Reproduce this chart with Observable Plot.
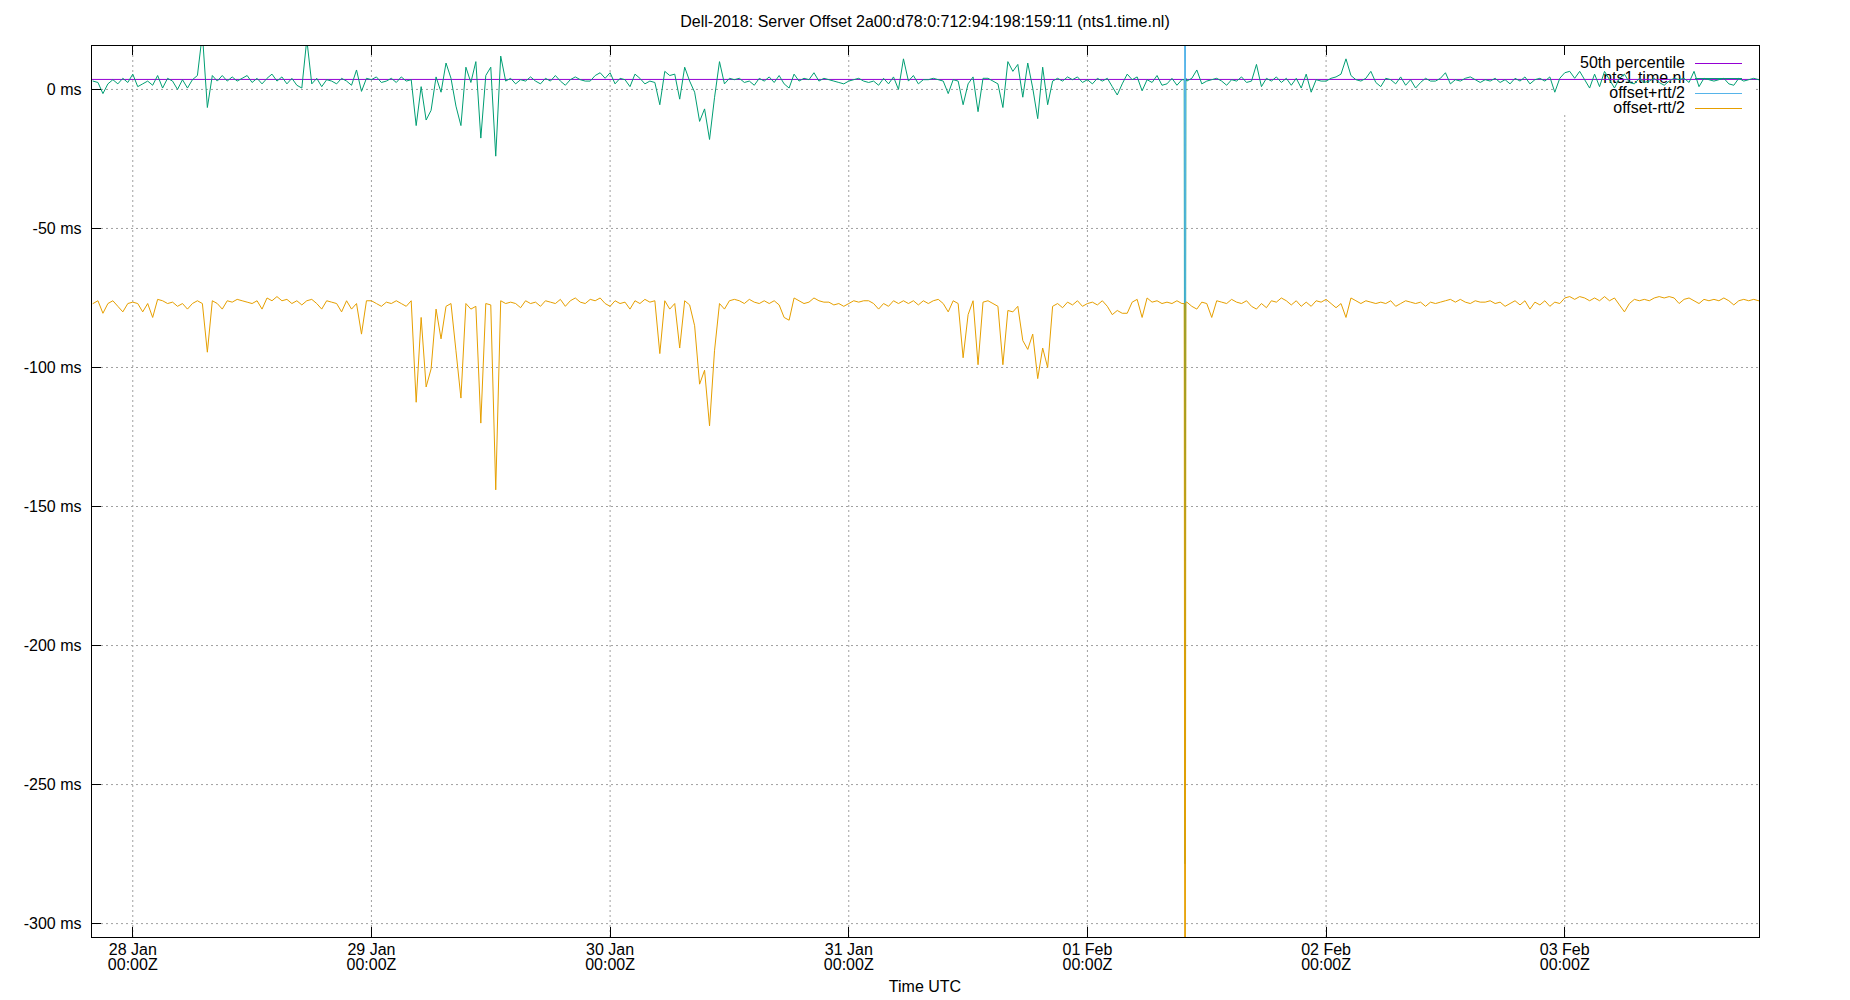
<!DOCTYPE html>
<html><head><meta charset="utf-8">
<script src="https://cdn.jsdelivr.net/npm/d3@7"></script>
<script src="https://cdn.jsdelivr.net/npm/@observablehq/plot@0.6"></script>
<style>body{margin:0;background:#fff;} svg{display:block}</style>
</head><body><div id="chart"></div>
<script>
const chartTitle = "Dell-2018: Server Offset 2a00:d78:0:712:94:198:159:11 (nts1.time.nl)";
const xLabel = "Time UTC";
const seriesNames = ["50th percentile", "nts1.time.nl", "offset+rtt/2", "offset-rtt/2"];
const seriesColors = ["#9400d3", "#009e73", "#56b4e9", "#e69f00"];
const startTime = "2025-01-27T20:00:00Z";
const stepMinutes = 30;
const medianMs = 3.6;
// offset (ms), every 30 min
const offsetMs = [
 3,2.5,-1.5,2,3.5,2,4,2.5,5.5,1,2,3,1.5,5,0.5,4,3,0,3.5,0.5,3.5,5,20,-6.5,5,3,5,3,4.5,3,4,5,2.5,4,2,4,5.5,3,4.5,2,4,1.5,0.5,18,2,4,1,3.5,3,2,4,3,1.5,7,-0.7,4,
 3.5,4.5,2.5,3,4,2.5,4.5,3,3.5,-13,1,-11,-7.5,4.5,-1,9.5,4,-6,-13,8,2.5,10,-17.5,5,8,-24,12,3,4,2,3.5,3,4.5,3,2,4,3,5,3,1.5,3.5,4.5,3.5,3,3,5,6,4,6,2,4,3.5,1,5.5,4,2,
 3,2.5,-5.5,6.5,5,5.5,-3.5,8,3,-1,-11.5,-7,-18,-3,10,2,4,3.5,4,2.5,3,1.5,4,3,4.5,2.5,5,2,0.5,5.5,3,4,3.5,6,3,4,3.5,3,2.5,2,3,3.5,4,3,2.5,3,1.5,4,2,4.5,0,11,3,5,2,3.5,
 3.5,4,3.5,3,-1.5,3.5,3,-5.5,2,4.5,-8,4,4,3,2,-6.5,10,6.5,9,-2.8,9.5,0.5,-10.5,8,-5.5,3,4,3,4.5,3.5,4.5,2.5,3.5,2,4,3,4,1,-2,2,5.5,3.5,4.5,-0.5,3.5,2.5,5,1.5,2,4,1.5,3.5,3,4,7,2,
 3,3.5,4,3,1.5,3.5,3,4.5,2.5,3,9,1,4,3,4.5,2.5,4,1.5,4,0.5,5.5,-1,3.5,3,3,4,4.5,5.5,11,5,3.5,3,4,6.5,2.5,1,4,3.5,2,4.5,1.5,3.5,0.5,2.5,4,3,3,4,6,2,3.5,3,4,4.5,3.5,2.5,
 3.5,3,4,2.5,3.5,2,4,3,4.5,2,3.5,4,3,4.5,-1,4,6,6.5,4,6.5,3.5,0.5,5.5,1,6.5,3.5,0.5,4,5.5,2.5,2,4,2.5,3,4,2.5,1.5,3,4,3.5,4,2.5,6.5,1,4,3.5,3,3.5,4,2,1.5,4,3,3.5,4,3.5
];
// offset - rtt/2 (ms), same times
const offsetMinusHalfRttMs = [
 -77,-76,-80.5,-77,-76,-78,-80,-77,-76.5,-77,-80,-77,-82,-75.5,-76,-77,-76.5,-78,-77,-79,-77,-76,-77,-94.5,-76,-77,-79,-76,-76.5,-75.5,-76,-76.5,-77,-76,-79,-75,-76,-74.5,-76,-75.5,-77,-76,-77.5,-76,-75.5,-77,-79,-76,-76.5,-77,-80,-76,-79,-77,-88,-76,
 -76,-77,-78,-76.5,-77,-76,-77,-78,-76,-112.5,-82,-107,-100.5,-79,-89.7,-78,-77,-94,-111,-77,-79,-78,-120,-77,-77.5,-144,-76,-77,-76.5,-77,-78.5,-76,-77,-76.5,-78,-76,-76.5,-77,-75.5,-78,-76,-75,-76.5,-77,-75.5,-76,-75,-77,-78,-76,-77,-76.5,-79,-76,-77,-75.5,
 -76.5,-76,-95,-76,-79,-77,-93,-76,-77.5,-85,-106,-101,-121,-94,-77,-79,-76,-75.5,-76,-77,-75.5,-76.5,-77,-76,-77,-76,-77.5,-82,-83,-75,-76,-77,-76.5,-75,-76,-76.5,-76.5,-77.5,-77,-78,-77,-76,-76.5,-76,-76,-77,-79,-77,-78,-76,-77,-76,-77,-76,-77.5,-76,
 -77,-76,-75.5,-77,-80,-76,-77,-96.5,-81,-76,-99,-76.5,-76,-77,-78,-99,-79.5,-80,-78,-90.3,-93.5,-88,-104,-93,-100,-78,-77,-78.5,-76.5,-77.5,-76,-78,-77,-76.5,-77.5,-76,-78,-81,-79.5,-80.5,-80.5,-76.5,-75.5,-82,-75,-76.5,-76,-77,-76.5,-77,-76,-77,-76.5,-78,-79,-76.5,
 -77,-82,-76,-76.5,-77,-75.5,-76.5,-77,-76,-78,-79,-77,-78.5,-76,-76.5,-75,-76,-77.5,-76,-78,-76.5,-78,-76,-76.5,-75.5,-77,-78.5,-77,-82,-75,-76,-77,-76,-76.5,-77,-76.5,-77,-76,-78,-77,-76,-76.5,-77,-76.5,-78,-76.5,-77,-76.5,-76,-75.5,-76.5,-75.5,-76.5,-77,-76,-76.5,
 -76.5,-76,-77,-76.5,-78,-77,-76,-77.5,-76,-79,-76.5,-77.5,-76,-78,-76.5,-77,-75,-74.5,-75.5,-74.5,-75,-76,-75,-76,-74.5,-76,-75,-77.5,-80,-77,-75.5,-76,-75.5,-76,-75,-74.5,-75,-74.5,-75,-77,-75.5,-75,-76,-77,-75.5,-76,-75.5,-76,-75,-76,-77.5,-76,-75.5,-76,-75.5,-76
];
// extra samples around the large-rtt event of 01 Feb
const eventTimes = ["2025-02-01T09:44:00Z", "2025-02-01T09:49:00Z", "2025-02-01T09:54:00Z"];
const eventOffsetMs = [3.5, -278.5, 4];
const eventOffsetMinusHalfRttMs = [-77, -480, -76.5];
const dayTicks = ["2025-01-28","2025-01-29","2025-01-30","2025-01-31","2025-02-01","2025-02-02","2025-02-03"];
const yTicks = [0, -50, -100, -150, -200, -250, -300];
const xDomain = ["2025-01-27T19:51:00Z", "2025-02-03T19:35:00Z"];
const yDomain = [-305, 15.8];

(function () {
const t0 = +new Date(startTime);
const rows = offsetMs.map((v, i) => ({t: new Date(t0 + i * stepMinutes * 60000), offset: v, lower: offsetMinusHalfRttMs[i]}));
eventTimes.forEach((t, k) => rows.push({t: new Date(t), offset: eventOffsetMs[k], lower: eventOffsetMinusHalfRttMs[k]}));
rows.sort((a, b) => a.t - b.t);
rows.forEach(r => { r.upper = 2 * r.offset - r.lower; });
const dayDates = dayTicks.map(d => new Date(d + "T00:00:00Z"));
const fmtDay = d3.utcFormat("%d %b"), fmtHour = d3.utcFormat("%H:%MZ");
const gridStyle = {stroke: "#a0a0a0", strokeOpacity: 1, strokeWidth: 1, strokeDasharray: "2,3"};

const plot = Plot.plot({
  width: 1850, height: 1000,
  marginLeft: 91, marginRight: 91, marginTop: 45, marginBottom: 63,
  style: {fontFamily: "'Liberation Sans', Arial, sans-serif", fontSize: "16px", background: "#fff", color: "#000"},
  x: {type: "utc", domain: xDomain.map(d => new Date(d))},
  y: {domain: yDomain},
  marks: [
    Plot.gridX(dayDates, gridStyle),
    Plot.gridY(yTicks, gridStyle),
    Plot.ruleY([medianMs], {stroke: seriesColors[0], strokeWidth: 1}),
    Plot.line(rows, {x: "t", y: "offset", stroke: seriesColors[1], strokeWidth: 1, clip: true}),
    Plot.line(rows, {x: "t", y: "upper", stroke: seriesColors[2], strokeWidth: 1, clip: true}),
    Plot.line(rows, {x: "t", y: "lower", stroke: seriesColors[3], strokeWidth: 1, clip: true}),
    Plot.frame({stroke: "#000", strokeWidth: 1}),
    Plot.axisY({ticks: yTicks, tickFormat: d => `${d} ms`, tickSize: 0, tickPadding: 10, label: null, fontSize: 16}),
    Plot.axisX({ticks: dayDates, tickFormat: d => fmtDay(d) + "\n" + fmtHour(d), tickSize: 0, tickPadding: 7, label: null, fontSize: 16, lineHeight: 0.94})
  ]
});
document.getElementById("chart").appendChild(plot);

const svg = d3.select(plot);
const xs = plot.scale("x"), ys = plot.scale("y");
const frameTop = 45, frameBottom = 937, frameLeft = 91;
// legend drawn behind the data lines, above the grid
const lg = document.createElementNS("http://www.w3.org/2000/svg", "g");
const anchorNode = plot.querySelector('g[aria-label="rule"]') || plot.querySelector('g[aria-label="line"]');
if (anchorNode) anchorNode.parentNode.insertBefore(lg, anchorNode); else plot.appendChild(lg);
const L = d3.select(lg);
L.append("rect").attr("x", 1555).attr("y", 46).attr("width", 198).attr("height", 69).attr("fill", "#fff");
seriesNames.forEach((name, k) => {
  const y = 63.5 + 15 * k;
  L.append("text").attr("x", 1685).attr("y", y + 4.5).attr("text-anchor", "end").attr("font-size", 16).attr("fill", "#000").text(name);
  L.append("line").attr("x1", 1695).attr("x2", 1742).attr("y1", y).attr("y2", y).attr("stroke", seriesColors[k]).attr("stroke-width", 1);
});
// inward ticks
const tg = svg.append("g").attr("stroke", "#000").attr("stroke-width", 1);
dayDates.forEach(d => {
  const x = Math.round(xs.apply(d)) + 0.5;
  tg.append("line").attr("x1", x).attr("x2", x).attr("y1", frameBottom).attr("y2", frameBottom - 10);
  tg.append("line").attr("x1", x).attr("x2", x).attr("y1", frameTop).attr("y2", frameTop + 10);
});
yTicks.forEach(v => {
  const y = Math.round(ys.apply(v)) + 0.5;
  tg.append("line").attr("x1", frameLeft).attr("x2", frameLeft + 10).attr("y1", y).attr("y2", y);
});
svg.append("text").attr("x", 925).attr("y", 27).attr("text-anchor", "middle").attr("font-size", 16).attr("fill", "#000").text(chartTitle);
svg.append("text").attr("x", 925).attr("y", 992).attr("text-anchor", "middle").attr("font-size", 16).attr("fill", "#000").text(xLabel);
})();
</script>
</body></html>
